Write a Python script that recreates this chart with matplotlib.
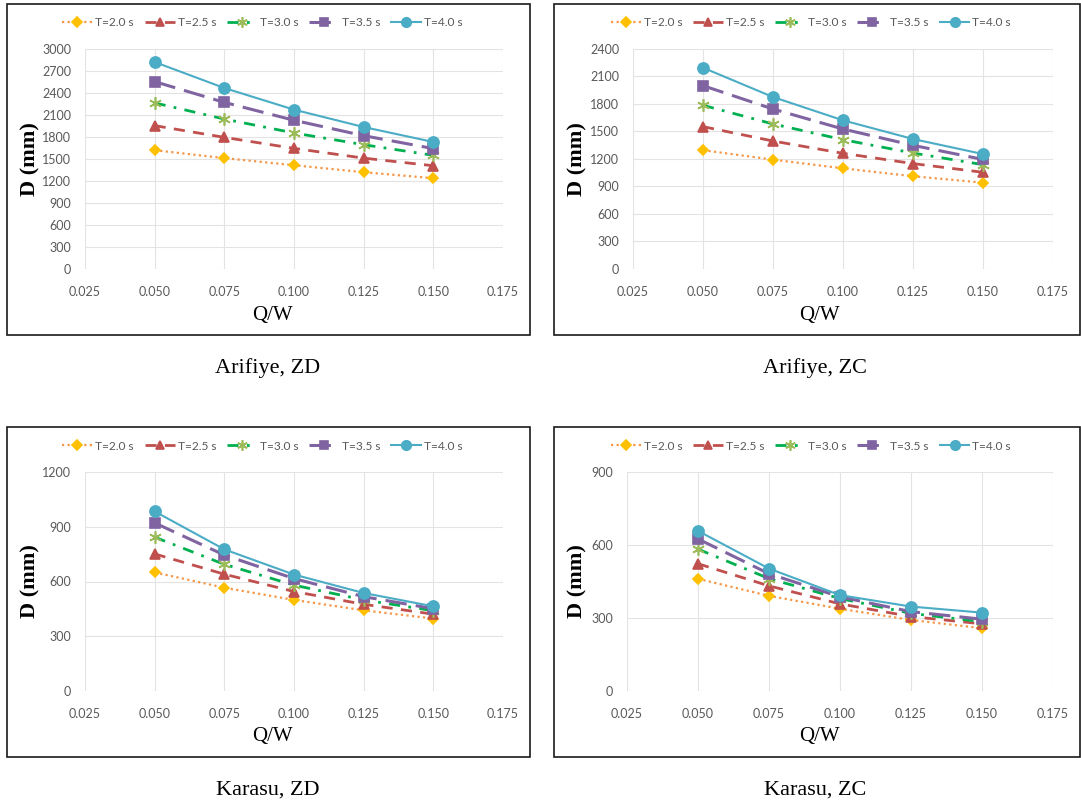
import matplotlib
matplotlib.use("Agg")
import matplotlib.pyplot as plt
from matplotlib.patches import Rectangle
from matplotlib.lines import Line2D

W, H = 1081, 807

# x values shared by all panels
qw = [0.050, 0.075, 0.100, 0.125, 0.150]
labels = ["T=2.0 s", "T=2.5 s", "T=3.0 s", "T=3.5 s", "T=4.0 s"]

# Arifiye, ZD
ari_zd_t20 = [1620, 1512, 1415, 1320, 1238]
ari_zd_t25 = [1955, 1795, 1645, 1512, 1408]
ari_zd_t30 = [2265, 2045, 1855, 1695, 1550]
ari_zd_t35 = [2555, 2272, 2028, 1818, 1642]
ari_zd_t40 = [2822, 2468, 2173, 1936, 1732]

# Arifiye, ZC
ari_zc_t20 = [1296, 1193, 1098, 1012, 942]
ari_zc_t25 = [1553, 1396, 1262, 1150, 1055]
ari_zc_t30 = [1786, 1582, 1411, 1265, 1138]
ari_zc_t35 = [2000, 1745, 1527, 1349, 1195]
ari_zc_t40 = [2196, 1876, 1622, 1418, 1254]

# Karasu, ZD
kar_zd_t20 = [650, 566, 499, 442, 397]
kar_zd_t25 = [751, 640, 545, 475, 421]
kar_zd_t30 = [843, 694, 580, 499, 440]
kar_zd_t35 = [921, 745, 616, 517, 451]
kar_zd_t40 = [984, 776, 638, 537, 464]

# Karasu, ZC
kar_zc_t20 = [461, 391, 338, 292, 258]
kar_zc_t25 = [523, 432, 358, 306, 276]
kar_zc_t30 = [583, 462, 380, 319, 285]
kar_zc_t35 = [625, 482, 387, 326, 295]
kar_zc_t40 = [658, 503, 394, 347, 322]

panels = [
    ("Arifiye, ZD", [ari_zd_t20, ari_zd_t25, ari_zd_t30, ari_zd_t35, ari_zd_t40], 3000, 300),
    ("Arifiye, ZC", [ari_zc_t20, ari_zc_t25, ari_zc_t30, ari_zc_t35, ari_zc_t40], 2400, 300),
    ("Karasu, ZD", [kar_zd_t20, kar_zd_t25, kar_zd_t30, kar_zd_t35, kar_zd_t40], 1200, 300),
    ("Karasu, ZC", [kar_zc_t20, kar_zc_t25, kar_zc_t30, kar_zc_t35, kar_zc_t40], 900, 300),
]

# line/marker styles per series (Excel-ish palette)
styles = [
    dict(color="#F79646", ls=(0, (1, 1.5)), lw=1.6, marker="D", mfc="#FFC000", mec="#FFC000", ms=5.5),
    dict(color="#C0504D", ls=(0, (4, 3)), lw=2.0, marker="^", mfc="#C0504D", mec="#C0504D", ms=7),
    dict(color="#00B050", ls=(0, (4, 3, 1, 3)), lw=2.0, marker=(6, 2, 0), mfc="#9BBB59", mec="#9BBB59", ms=9),
    dict(color="#8064A2", ls=(0, (7, 3)), lw=2.2, marker="s", mfc="#8064A2", mec="#8064A2", ms=7.5),
    dict(color="#4BACC6", ls="-", lw=1.5, marker="o", mfc="#4BACC6", mec="#4BACC6", ms=8),
]

# pixel layout: box (x0, y0, x1, y1), plot area (x0, y0, x1, y1), caption center
layout = [
    ((7, 4, 530, 335), (85, 49, 503, 269), (268, 368)),
    ((554, 4, 1080, 335), (633, 49, 1053, 269), (815, 368)),
    ((7, 427, 530, 757), (85, 472, 503, 691), (268, 790)),
    ((554, 427, 1080, 757), (627, 472, 1053, 691), (815, 790)),
]

tick_font = "Lato"
serif = "Liberation Serif"
gray = "#595959"

fig = plt.figure(figsize=(W / 100, H / 100), dpi=100)


def fx(px):
    return px / W


def fy(py):
    return 1 - py / H


for (caption, series, ymax, ystep), (box, area, cap) in zip(panels, layout):
    bx0, by0, bx1, by1 = box
    fig.patches.append(Rectangle((fx(bx0), fy(by1)), fx(bx1 - bx0), (by1 - by0) / H,
                                 transform=fig.transFigure, fill=False,
                                 edgecolor="#1a1a1a", lw=1.2))

    ax0, ay0, ax1, ay1 = area
    ax = fig.add_axes([fx(ax0), fy(ay1), fx(ax1 - ax0), (ay1 - ay0) / H])
    for vals, st in zip(series, styles):
        ax.plot(qw, vals, color=st["color"], ls=st["ls"], lw=st["lw"],
                marker=st["marker"], mfc=st["mfc"], mec=st["mec"], ms=st["ms"],
                mew=1.2, clip_on=False)

    ax.set_xlim(0.025, 0.175)
    ax.set_ylim(0, ymax)
    ax.set_xticks([0.025, 0.050, 0.075, 0.100, 0.125, 0.150, 0.175])
    ax.set_xticklabels(["%.3f" % v for v in ax.get_xticks()])
    ax.set_yticks(range(0, ymax + 1, ystep))
    ax.grid(True, color="#E3E3E3", lw=0.8)
    ax.set_axisbelow(True)
    for s in ax.spines.values():
        s.set_visible(False)
    ax.tick_params(axis="y", length=0, labelsize=9, labelcolor=gray, pad=10)
    ax.tick_params(axis="x", length=0, labelsize=9, labelcolor=gray, pad=12)
    for t in ax.get_xticklabels() + ax.get_yticklabels():
        t.set_fontfamily(tick_font)

    # axis titles
    fig.text(fx(bx0 + 23), fy((ay0 + ay1) / 2), "D (mm)", rotation=90,
             ha="center", va="center", fontfamily=serif, fontsize=16, fontweight="bold")
    fig.text(fx(bx0 + 265), fy(ay1 + 46), "Q/W", ha="center", va="center",
             fontfamily=serif, fontsize=15)

    # legend on top of each chart box
    handles = [Line2D([], [], color=st["color"], ls=st["ls"], lw=st["lw"],
                      marker=st["marker"], mfc=st["mfc"], mec=st["mec"],
                      ms=st["ms"] * 0.85, mew=1.2) for st in styles]
    fig.legend(handles, labels, loc="center",
               bbox_to_anchor=(fx((bx0 + bx1) / 2 - 6), fy(by0 + 19)),
               ncol=5, frameon=False, handlelength=2.5, columnspacing=0.9,
               handletextpad=0.25, prop={"family": tick_font, "size": 8.6},
               labelcolor=gray)

    fig.text(fx(cap[0]), fy(cap[1]), caption, ha="center", va="center",
             fontfamily=serif, fontsize=16)

plt.savefig("out.png", dpi=100)
